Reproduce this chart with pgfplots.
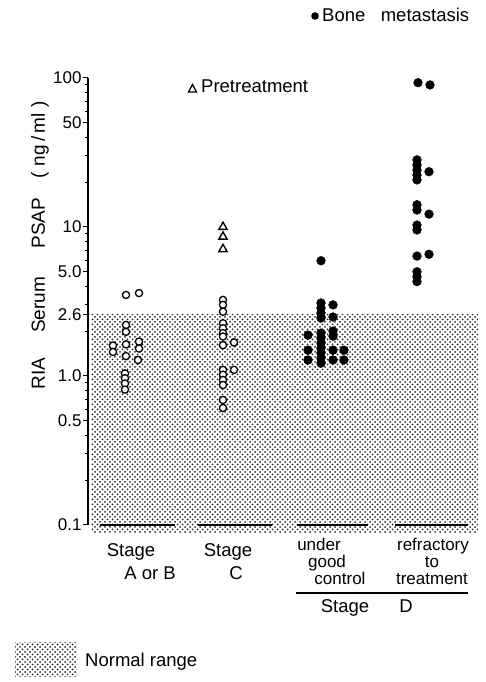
\documentclass[border=0pt]{standalone}
\usepackage{pgfplots}
\pgfplotsset{compat=1.18}
\usepackage{fontspec}
\setmainfont{Liberation Sans}
\usetikzlibrary{patterns}
\pgfdeclarepatternformonly{mydots}{\pgfqpoint{-1pt}{-1pt}}{\pgfqpoint{6pt}{6pt}}{\pgfqpoint{5pt}{5pt}}{%
  \pgfpathcircle{\pgfqpoint{0pt}{0pt}}{1.0pt}%
  \pgfpathcircle{\pgfqpoint{2.5pt}{2.5pt}}{1.0pt}%
  \pgfusepath{fill}}
\newcommand{\tf}{\fontsize{18.5}{14}\selectfont}
\newcommand{\smf}{\fontsize{17}{16}\selectfont}
\begin{document}
\begin{tikzpicture}[x=1pt,y=1pt]
\path[use as bounding box] (0,0) rectangle (486,682);
\begin{axis}[
  at={(88pt,157pt)}, anchor=south west,
  scale only axis, width=392pt, height=447pt,
  xmin=88, xmax=480,
  ymode=log, ymin=0.1, ymax=100,
  axis x line=none, axis y line*=left,
  axis line style={line width=1.1pt},
  ytick={0.1,0.5,1,2.6,5,10,50,100},
  yticklabels={0.1,0.5,1.0,2.6,5.0,10,50,100},
  minor ytick={0.2,0.3,0.4,0.6,0.7,0.8,0.9,2,3,4,6,7,8,9,20,30,40,60,70,80,90},
  tick align=outside,
  major tick length=5pt, minor tick length=3pt,
  tick style={line width=1pt, black},
  /pgf/number format/assume math mode=true,
  yticklabel style={font=\fontsize{17}{17}\selectfont, xshift=2pt},
  clip=false,
]
% normal range shading
\addplot[draw=none, pattern=mydots, pattern color=black!85] coordinates
  {(91,0.088) (478,0.088) (478,2.6) (91,2.6)} \closedcycle;
% baseline lines at 0.1
\addplot[black, line width=1.1pt] coordinates {(100,0.1) (175,0.1)};
\addplot[black, line width=1.1pt] coordinates {(198,0.1) (272,0.1)};
\addplot[black, line width=1.1pt] coordinates {(297,0.1) (368,0.1)};
\addplot[black, line width=1.1pt] coordinates {(395,0.1) (468,0.1)};
% Stage A or B (open circles)
\addplot[only marks, mark=*, mark size=3.6pt, mark options={fill=white, draw=black, line width=1.3pt}] coordinates {
 (126,3.5) (139,3.6) (126,2.2) (126,1.98) (113,1.6) (113,1.45) (126,1.63) (126,1.36)
 (139,1.70) (139,1.53) (138,1.28) (125,1.04) (125,0.966) (125,0.89) (125,0.81)};
% Stage C (open circles)
\addplot[only marks, mark=*, mark size=3.6pt, mark options={fill=white, draw=black, line width=1.3pt}] coordinates {
 (223,3.24) (223,3.0) (223,2.7) (223,2.26) (223,2.09) (223,1.94) (223,1.84) (223,1.61)
 (234,1.68) (223,1.10) (223,1.02) (223,0.94) (223,0.87) (234,1.10) (223,0.69) (223,0.61)};
% Stage C pretreatment (triangles)
\addplot[only marks, mark=triangle*, mark size=4.8pt, mark options={fill=white, draw=black, line width=1.4pt}] coordinates {
 (223,10.0) (223,8.6) (223,7.1)};
% Stage D under good control (filled)
\addplot[only marks, mark=*, mark size=4.4pt, black] coordinates {
 (321,5.94) (321,3.09) (321,2.86) (321,2.65) (321,2.45) (321,1.94) (321,1.80) (321,1.66)
 (321,1.54) (321,1.43) (321,1.32) (321,1.22) (333,3.0) (333,2.49) (333,2.0) (333,1.85)
 (333,1.49) (333,1.28) (308,1.88) (308,1.49) (308,1.28) (344,1.49) (344,1.28)};
% Stage D refractory (filled)
\addplot[only marks, mark=*, mark size=4.4pt, black] coordinates {
 (418,93) (430,89.8) (417,28.2) (417,26.1) (417,24.1) (417,22.3) (417,20.7) (429,23.5)
 (417,14.1) (417,13.0) (429,12.2) (417,10.3) (417,9.55) (417,6.38) (429,6.56)
 (417,5.01) (417,4.64) (417,4.30)};
\end{axis}
% y label
\node[rotate=90, font=\fontsize{19}{19}\selectfont] at (40,437) {RIA\hspace{1.3em}Serum\hspace{1.5em}PSAP\hspace{1.0em}(\,\,ng\,/\,ml\,\,)};
% top legend
\fill (315,666) circle (3.8);
\node[anchor=base west, font=\tf, inner sep=0pt] at (322,660) {Bone\ \ \ metastasis};
\draw[line width=1.3pt] (188.5,590) -- (196.5,590) -- (192.5,597.5) -- cycle;
\node[anchor=base west, font=\tf, inner sep=0pt] at (201,589) {Pretreatment};
% category labels
\node[anchor=base, font=\tf, inner sep=0pt] at (131,125) {Stage};
\node[anchor=base, font=\tf, inner sep=0pt] at (150,102) {A or B};
\node[anchor=base, font=\tf, inner sep=0pt] at (228,125) {Stage};
\node[anchor=base, font=\tf, inner sep=0pt] at (236,102) {C};
\node[anchor=base, font=\smf, inner sep=0pt] at (319,131) {under};
\node[anchor=base, font=\smf, inner sep=0pt] at (327,114) {good};
\node[anchor=base, font=\smf, inner sep=0pt] at (340,97) {control};
\node[anchor=base, font=\smf, inner sep=0pt] at (433,131) {refractory};
\node[anchor=base, font=\smf, inner sep=0pt] at (432,114) {to};
\node[anchor=base, font=\smf, inner sep=0pt] at (432,97) {treatment};
\draw[line width=1.1pt] (296,89) -- (468,89);
\node[anchor=base, font=\tf, inner sep=0pt] at (345,69) {Stage};
\node[anchor=base, font=\tf, inner sep=0pt] at (406,69) {D};
% normal range legend
\fill[pattern=mydots, pattern color=black!85] (15,5) rectangle (77,39);
\node[anchor=base west, font=\tf, inner sep=0pt] at (85,15) {Normal range};
\end{tikzpicture}
\end{document}
